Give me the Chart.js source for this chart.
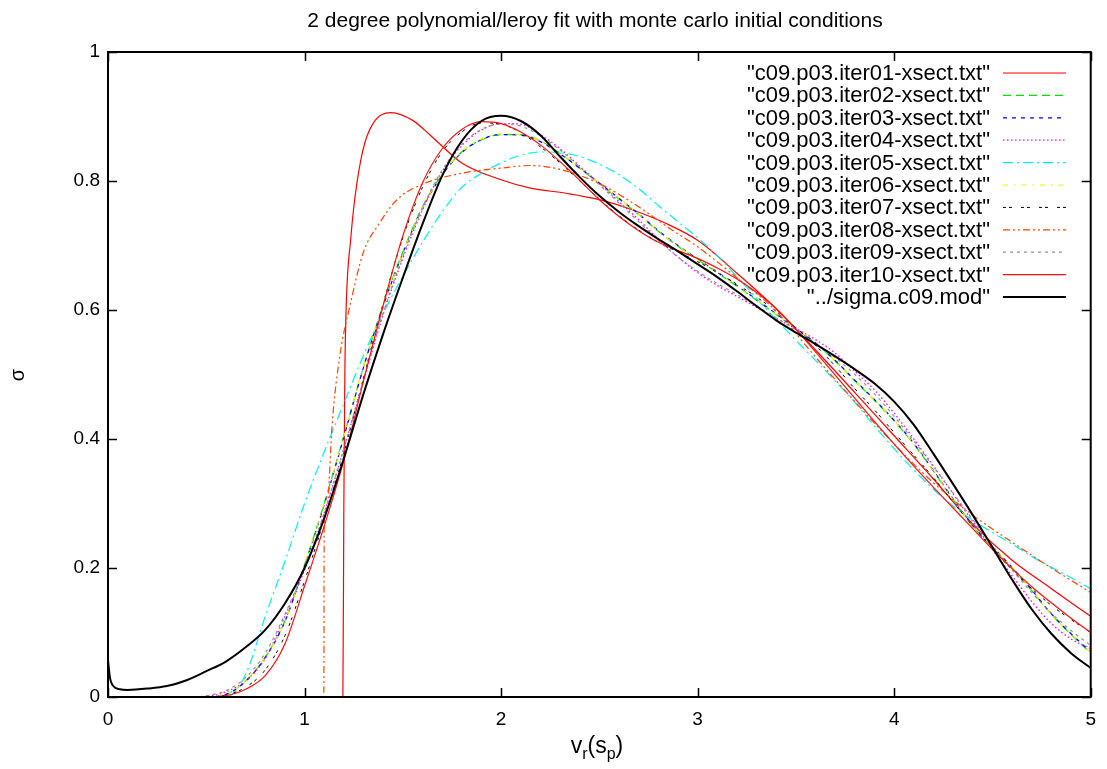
<!DOCTYPE html>
<html>
<head>
<meta charset="utf-8">
<script src="https://cdn.jsdelivr.net/npm/chart.js@4.4.0/dist/chart.umd.min.js"></script>
<style>
    body { margin: 0; background: #fff; }
    #wrap { width: 1107px; height: 769px; }
</style>
</head>
<body>
<div id="wrap"><canvas id="plot" width="1107" height="769"></canvas></div>
<script>
// ---- data ----
const xs = [0, 0.1, 0.2, 0.3, 0.4, 0.5, 0.6, 0.7, 0.8, 0.9,
            1.0, 1.1, 1.2, 1.3, 1.4, 1.5, 1.6, 1.7, 1.8, 1.9,
            2.0, 2.1, 2.2, 2.3, 2.4, 2.5, 2.6, 2.7, 2.8, 2.9,
            3.0, 3.1, 3.2, 3.3, 3.4, 3.5, 3.6, 3.7, 3.8, 3.9,
            4.0, 4.1, 4.2, 4.3, 4.4, 4.5, 4.6, 4.7, 4.8, 4.9, 5.0];

const iter01X = [0, 1.195, 1.2, 1.205, 1.213, 1.235, 1.255, 1.297, 1.348, 1.44, 1.55, 1.64, 1.8, 2.0, 2.15, 2.33, 2.5, 2.67, 2.84,
                 3.0, 3.2, 3.4, 3.6, 3.8, 4.0, 4.2, 4.4, 4.6, 4.8, 5.0];
const iter01Y = [0, 0, 0.3, 0.5, 0.615, 0.71, 0.771, 0.848, 0.889, 0.906, 0.894, 0.871, 0.828, 0.802, 0.789, 0.781, 0.771, 0.755, 0.734,
                 0.708, 0.657, 0.602, 0.538, 0.472, 0.405, 0.338, 0.268, 0.212, 0.168, 0.125];

const iter02Y = [0, 0, 0, 0, 0, 0, 0.004, 0.025, 0.062, 0.118,
                 0.205, 0.3, 0.405, 0.512, 0.608, 0.69, 0.76, 0.81, 0.845, 0.864,
                 0.872, 0.872, 0.862, 0.843, 0.82, 0.796, 0.772, 0.748, 0.722, 0.699,
                 0.678, 0.658, 0.637, 0.615, 0.593, 0.571, 0.548, 0.521, 0.49, 0.46,
                 0.428, 0.392, 0.35, 0.306, 0.265, 0.232, 0.2, 0.165, 0.128, 0.097, 0.068];
const iter03Y = [0, 0, 0, 0, 0, 0, 0.004, 0.024, 0.061, 0.117,
                 0.204, 0.298, 0.403, 0.511, 0.606, 0.688, 0.758, 0.809, 0.844, 0.864,
                 0.872, 0.871, 0.861, 0.842, 0.82, 0.797, 0.773, 0.749, 0.723, 0.7,
                 0.679, 0.659, 0.638, 0.616, 0.594, 0.572, 0.549, 0.522, 0.491, 0.461,
                 0.429, 0.393, 0.351, 0.307, 0.266, 0.233, 0.201, 0.166, 0.129, 0.098, 0.07];
const iter04Y = [0, 0, 0, 0, 0, 0.001, 0.008, 0.025, 0.06, 0.125,
                 0.197, 0.285, 0.385, 0.49, 0.593, 0.68, 0.755, 0.815, 0.855, 0.879,
                 0.889, 0.888, 0.872, 0.85, 0.823, 0.796, 0.768, 0.74, 0.71, 0.682,
                 0.658, 0.638, 0.621, 0.604, 0.587, 0.571, 0.554, 0.533, 0.505, 0.476,
                 0.44, 0.4, 0.358, 0.315, 0.272, 0.229, 0.188, 0.148, 0.114, 0.09, 0.075];
const iter05Y = [0, 0, 0, 0, 0, 0, 0, 0.035, 0.125, 0.21,
                 0.3, 0.38, 0.455, 0.53, 0.595, 0.652, 0.705, 0.752, 0.79, 0.812,
                 0.828, 0.84, 0.845, 0.844, 0.838, 0.826, 0.81, 0.788, 0.762, 0.737,
                 0.712, 0.684, 0.652, 0.618, 0.585, 0.553, 0.522, 0.49, 0.457, 0.42,
                 0.385, 0.352, 0.322, 0.296, 0.274, 0.255, 0.237, 0.218, 0.201, 0.185, 0.168];
const iter06Y = [0, 0, 0, 0, 0, 0, 0.004, 0.025, 0.062, 0.118,
                 0.206, 0.3, 0.404, 0.513, 0.607, 0.689, 0.759, 0.81, 0.845, 0.865,
                 0.873, 0.872, 0.862, 0.843, 0.821, 0.797, 0.773, 0.748, 0.722, 0.699,
                 0.678, 0.658, 0.637, 0.615, 0.593, 0.572, 0.549, 0.521, 0.49, 0.46,
                 0.429, 0.392, 0.35, 0.306, 0.265, 0.233, 0.201, 0.166, 0.128, 0.098, 0.069];
const iter07Y = [0, 0, 0, 0, 0, 0, 0.003, 0.015, 0.042, 0.095,
                 0.18, 0.275, 0.378, 0.495, 0.61, 0.712, 0.79, 0.845, 0.876, 0.89,
                 0.888, 0.875, 0.853, 0.828, 0.8, 0.772, 0.746, 0.724, 0.705, 0.69,
                 0.675, 0.658, 0.64, 0.62, 0.598, 0.572, 0.545, 0.513, 0.478, 0.445,
                 0.41, 0.375, 0.34, 0.302, 0.265, 0.23, 0.197, 0.168, 0.142, 0.12, 0.1];

const iter08X = [0, 1.098, 1.1, 1.11, 1.12, 1.14, 1.18, 1.23, 1.3, 1.38, 1.47, 1.6, 1.8, 2.0, 2.15, 2.3, 2.5, 2.7, 2.85,
                 3.0, 3.2, 3.4, 3.6, 3.8, 4.0, 4.2, 4.4, 4.6, 4.8, 5.0];
const iter08Y = [0, 0, 0.26, 0.29, 0.31, 0.42, 0.53, 0.605, 0.69, 0.734, 0.771, 0.795, 0.812, 0.82, 0.824, 0.818, 0.796, 0.76, 0.728,
                 0.698, 0.65, 0.598, 0.527, 0.458, 0.392, 0.332, 0.282, 0.24, 0.2, 0.162];

const iter09Y = [0, 0, 0, 0, 0, 0.002, 0.01, 0.03, 0.068, 0.128,
                 0.2, 0.285, 0.385, 0.492, 0.595, 0.683, 0.758, 0.817, 0.857, 0.88,
                 0.888, 0.885, 0.87, 0.848, 0.822, 0.794, 0.766, 0.737, 0.708, 0.682,
                 0.66, 0.641, 0.624, 0.606, 0.588, 0.569, 0.549, 0.526, 0.5, 0.47,
                 0.435, 0.397, 0.357, 0.316, 0.275, 0.235, 0.197, 0.162, 0.13, 0.103, 0.08];
const iter10Y = [0, 0, 0, 0, 0, 0, 0.002, 0.012, 0.033, 0.082,
                 0.172, 0.265, 0.367, 0.49, 0.607, 0.715, 0.797, 0.85, 0.88, 0.892,
                 0.889, 0.876, 0.856, 0.83, 0.801, 0.771, 0.745, 0.723, 0.705, 0.692,
                 0.68, 0.665, 0.648, 0.627, 0.602, 0.57, 0.535, 0.499, 0.463, 0.427,
                 0.392, 0.358, 0.325, 0.293, 0.261, 0.229, 0.199, 0.171, 0.146, 0.122, 0.1];

// model curve has a narrow spike at the origin, so it gets extra x points there
const sigmaX = [0, 0.01, 0.03, 0.06].concat(xs.slice(1));
const sigmaY = [0.057, 0.03, 0.016, 0.012,
                0.011, 0.013, 0.017, 0.026, 0.04, 0.055, 0.077, 0.104, 0.145,
                0.2, 0.277, 0.37, 0.47, 0.563, 0.65, 0.733, 0.808, 0.862, 0.893,
                0.901, 0.893, 0.871, 0.838, 0.806, 0.777, 0.752, 0.73, 0.71, 0.691,
                0.671, 0.651, 0.629, 0.606, 0.584, 0.565, 0.547, 0.528, 0.508, 0.486,
                0.458, 0.422, 0.377, 0.33, 0.282, 0.232, 0.182, 0.136, 0.098, 0.068, 0.045];

const xTicks = [0, 1, 2, 3, 4, 5];
const yTicks = [0, 0.2, 0.4, 0.6, 0.8, 1];

const series = [
    { label: '"c09.p03.iter01-xsect.txt"', x: iter01X, y: iter01Y, color: '#ff0000', dash: [], width: 1.2 },
    { label: '"c09.p03.iter02-xsect.txt"', x: xs, y: iter02Y, color: '#00e000', dash: [8, 5], width: 1.2 },
    { label: '"c09.p03.iter03-xsect.txt"', x: xs, y: iter03Y, color: '#0000ff', dash: [4, 5], width: 1.2 },
    { label: '"c09.p03.iter04-xsect.txt"', x: xs, y: iter04Y, color: '#ff00ff', dash: [1.5, 2.5], width: 1.3 },
    { label: '"c09.p03.iter05-xsect.txt"', x: xs, y: iter05Y, color: '#00f0f0', dash: [10, 4, 2, 4], width: 1.2 },
    { label: '"c09.p03.iter06-xsect.txt"', x: xs, y: iter06Y, color: '#f0f000', dash: [5, 6, 1.5, 6], width: 1.2 },
    { label: '"c09.p03.iter07-xsect.txt"', x: xs, y: iter07Y, color: '#000000', dash: [3, 3, 3, 9], width: 1 },
    { label: '"c09.p03.iter08-xsect.txt"', x: iter08X, y: iter08Y, color: '#ff4500', dash: [7, 3, 2, 3, 2, 3], width: 1.2 },
    { label: '"c09.p03.iter09-xsect.txt"', x: xs, y: iter09Y, color: '#909090', dash: [3, 4], width: 1.2 },
    { label: '"c09.p03.iter10-xsect.txt"', x: xs, y: iter10Y, color: '#ff1010', dash: [], width: 1.2 },
    { label: '"../sigma.c09.mod"', x: sigmaX, y: sigmaY, color: '#000000', dash: [], width: 2 }
];

const FONT = '"Liberation Sans", Arial, sans-serif';

function line(ctx, x1, y1, x2, y2) {
    ctx.beginPath();
    ctx.moveTo(x1, y1);
    ctx.lineTo(x2, y2);
    ctx.stroke();
}

// gnuplot-like frame, inward ticks, title, axis labels and key
const gnuplotDecor = {
    id: 'gnuplotDecor',
    afterDraw(chart) {
        const ctx = chart.ctx;
        const a = chart.chartArea;
        const sx = chart.scales.x, sy = chart.scales.y;
        ctx.save();
        ctx.strokeStyle = '#000';
        ctx.setLineDash([]);

        ctx.lineWidth = 1.5;
        xTicks.forEach(v => {
            const px = Math.round(sx.getPixelForValue(v)) + 0.5;
            line(ctx, px, a.bottom, px, a.bottom - 9);
            line(ctx, px, a.top, px, a.top + 9);
        });
        yTicks.forEach(v => {
            const py = Math.round(sy.getPixelForValue(v)) + 0.5;
            line(ctx, a.left, py, a.left + 9, py);
            line(ctx, a.right, py, a.right - 9, py);
        });
        ctx.lineWidth = 2;
        ctx.strokeRect(a.left, a.top, a.right - a.left, a.bottom - a.top);

        ctx.fillStyle = '#000';
        ctx.font = '21px ' + FONT;
        ctx.textAlign = 'center';
        ctx.textBaseline = 'alphabetic';
        ctx.fillText('2 degree polynomial/leroy fit with monte carlo initial conditions', 595, 27);

        // x label v_r(s_p)
        ctx.textAlign = 'left';
        const big = '23px ' + FONT, small = '16px ' + FONT;
        const parts = [['v', big, 0], ['r', small, 6], ['(s', big, 0], ['p', small, 6], [')', big, 0]];
        let w = 0;
        parts.forEach(p => { ctx.font = p[1]; w += ctx.measureText(p[0]).width; });
        let cx = 597 - w / 2;
        parts.forEach(p => {
            ctx.font = p[1];
            ctx.fillText(p[0], cx, 753 + p[2]);
            cx += ctx.measureText(p[0]).width;
        });

        // y label
        ctx.save();
        ctx.translate(18, 375);
        ctx.rotate(-Math.PI / 2);
        ctx.font = '20px ' + FONT;
        ctx.textAlign = 'center';
        ctx.textBaseline = 'middle';
        ctx.fillText('σ', 0, 0);
        ctx.restore();

        // key
        ctx.font = '22px ' + FONT;
        ctx.textAlign = 'right';
        ctx.textBaseline = 'middle';
        series.forEach((s, i) => {
            const yy = 73 + i * 22.4;
            ctx.fillStyle = '#000';
            ctx.fillText(s.label, 990, yy + 1);
            ctx.strokeStyle = s.color;
            ctx.lineWidth = s.width;
            ctx.setLineDash(s.dash);
            line(ctx, 1003, yy, 1066, yy);
        });
        ctx.restore();
    }
};

const datasets = series.map((s, i) => ({
    label: s.label,
    data: s.x.map((xv, k) => ({ x: xv, y: s.y[k] })),
    borderColor: s.color,
    borderWidth: s.width,
    borderDash: s.dash,
    pointRadius: 0,
    fill: false,
    cubicInterpolationMode: 'monotone',
    order: series.length - i
}));

new Chart(document.getElementById('plot').getContext('2d'), {
    type: 'line',
    data: { datasets: datasets },
    options: {
        responsive: false,
        animation: false,
        parsing: false,
        layout: { padding: { top: 52, right: 15, bottom: 0, left: 0 } },
        plugins: { legend: { display: false }, tooltip: { enabled: false }, title: { display: false } },
        scales: {
            x: {
                type: 'linear', min: 0, max: 5,
                afterFit: s => { s.height = 72; },
                grid: { display: false, drawTicks: false },
                border: { display: false },
                ticks: { stepSize: 1, padding: 11, color: '#000', font: { family: FONT, size: 19 }, maxRotation: 0 }
            },
            y: {
                type: 'linear', min: 0, max: 1,
                afterFit: s => { s.width = 108; },
                grid: { display: false, drawTicks: false },
                border: { display: false },
                ticks: {
                    stepSize: 0.2, padding: 8, color: '#000', font: { family: FONT, size: 19 },
                    callback: v => String(Math.round(v * 10) / 10)
                }
            }
        }
    },
    plugins: [gnuplotDecor]
});
</script>
</body>
</html>
